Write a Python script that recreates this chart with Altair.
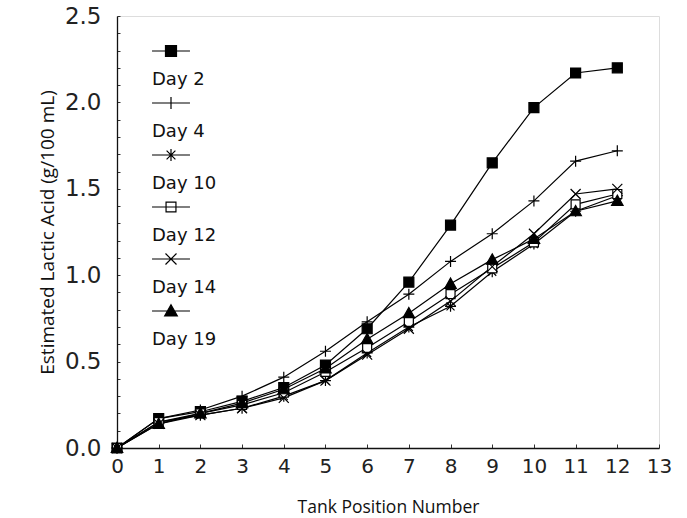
import altair as alt
import pandas as pd

# ---- data ----
positions = list(range(13))
days = ["Day 2", "Day 4", "Day 10", "Day 12", "Day 14", "Day 19"]
day2 = [0, 0.17, 0.21, 0.27, 0.35, 0.48, 0.69, 0.96, 1.29, 1.65, 1.97, 2.17, 2.20]
day4 = [0, 0.17, 0.22, 0.30, 0.41, 0.56, 0.73, 0.89, 1.08, 1.24, 1.43, 1.66, 1.72]
day10 = [0, 0.15, 0.19, 0.23, 0.30, 0.39, 0.55, 0.70, 0.82, 1.02, 1.18, 1.37, 1.46]
day12 = [0, 0.15, 0.20, 0.25, 0.32, 0.44, 0.58, 0.73, 0.89, 1.04, 1.19, 1.41, 1.47]
day14 = [0, 0.14, 0.19, 0.23, 0.29, 0.39, 0.54, 0.69, 0.85, 1.05, 1.24, 1.47, 1.50]
day19 = [0, 0.14, 0.20, 0.26, 0.34, 0.46, 0.63, 0.78, 0.95, 1.09, 1.21, 1.37, 1.43]
x_ticks = list(range(14))
y_ticks = [round(i * 0.1, 1) for i in range(26)]

series = [day2, day4, day10, day12, day14, day19]

# ---- marker styles (paths in unit symbol space) ----
marker_paths = {
    "Day 2": "M-1,-1H1V1H-1Z",
    "Day 4": "M-1.1,0H1.1M0,-1.1V1.1",
    "Day 10": "M-1.1,0H1.1M0,-1.1V1.1M-0.8,-0.8L0.8,0.8M-0.8,0.8L0.8,-0.8",
    "Day 12": "M-0.9,-0.9H0.9V0.9H-0.9Z",
    "Day 14": "M-1,-1L1,1M-1,1L1,-1",
    "Day 19": "M0,-1.15L1.15,0.9H-1.15Z",
}
marker_fill = {
    "Day 2": "black", "Day 4": "black", "Day 10": "black",
    "Day 12": "white", "Day 14": "black", "Day 19": "black",
}
seg = "M-3.45,0H3.45"
legend_paths = [seg + marker_paths[d] for d in days]
legend_fills = [marker_fill[d] for d in days]
legend_strokes = ["black"] * len(days)

rows = []
for d, vals in zip(days, series):
    for p, v in zip(positions, vals):
        rows.append({"day": d, "pos": p, "val": v,
                     "shape": marker_paths[d], "fillc": marker_fill[d]})
df = pd.DataFrame(rows)

x_enc = alt.X("pos:Q",
              scale=alt.Scale(domain=[0, 13], nice=False, zero=False),
              axis=alt.Axis(values=x_ticks, title="Tank Position Number",
                            format="d", labelFontSize=20, labelFont="DejaVu Sans",
                            labelColor="#222", labelPadding=12, labelFlush=False,
                            labelOverlap=False,
                            tickSize=alt.ExprRef(expr="-4"), tickColor="#333",
                            domainColor="#111", domainWidth=1.3,
                            titleFont="Open Sans", titleFontSize=17.5,
                            titleFontWeight="normal", titleColor="#111",
                            titlePadding=22, grid=False))
y_enc = alt.Y("val:Q",
              scale=alt.Scale(domain=[0, 2.5], nice=False),
              axis=alt.Axis(values=y_ticks,
                            labelExpr="(round(datum.value*10) % 5 == 0) ? format(datum.value, '.1f') : ''",
                            title="Estimated Lactic Acid  (g/100 mL)",
                            labelFontSize=23, labelFont="DejaVu Sans",
                            labelColor="#222", labelPadding=19, labelFlush=False,
                            labelOverlap=False,
                            tickSize=alt.ExprRef(expr="-3"), tickColor="#333",
                            domainColor="#111", domainWidth=1.3,
                            titleFont="Open Sans", titleFontSize=19,
                            titleFontWeight="normal", titleColor="#111",
                            titlePadding=7, grid=False))

lines = alt.Chart(df).mark_line(color="black", strokeWidth=1.2).encode(
    x=x_enc, y=y_enc, detail="day:N", order="pos:Q")

points = alt.Chart(df).mark_point(filled=True, stroke="black", strokeWidth=1.2,
                                  opacity=1, size=100).encode(
    x=x_enc, y=y_enc,
    shape=alt.Shape("shape:N", scale=None, legend=None),
    fill=alt.Fill("fillc:N", scale=None, legend=None))

legend_layer = alt.Chart(df).mark_point(filled=True, strokeWidth=1.2,
                                        opacity=0, size=121).encode(
    x=x_enc, y=y_enc,
    shape=alt.Shape("day:N", sort=days,
                    scale=alt.Scale(domain=days, range=legend_paths),
                    legend=alt.Legend(title=None, orient="none", legendX=45, legendY=26,
                                      symbolSize=121, symbolStrokeWidth=1.2,
                                      symbolStrokeColor="black", symbolOpacity=1,
                                      labelExpr="['', datum.label]",
                                      labelBaseline="top",
                                      labelOffset=alt.ExprRef(expr="-28"),
                                      labelFont="DejaVu Sans", labelFontSize=18,
                                      labelColor="#111", rowPadding=5,
                                      padding=0, labelLimit=200)),
    fill=alt.Fill("day:N", sort=days,
                  scale=alt.Scale(domain=days, range=legend_fills)),
    stroke=alt.Stroke("day:N", sort=days,
                      scale=alt.Scale(domain=days, range=legend_strokes)))

chart = alt.layer(lines, points, legend_layer).resolve_scale(
    shape="independent", fill="independent", stroke="independent"
).properties(
    width=542, height=432,
    autosize=alt.AutoSizeParams(type="none"),
    padding={"left": 117, "top": 16, "right": 28, "bottom": 70},
).configure_view(stroke="#444", strokeWidth=1).configure(background="white")

chart.save("out.html", embed_options={"renderer": "svg", "actions": False})
